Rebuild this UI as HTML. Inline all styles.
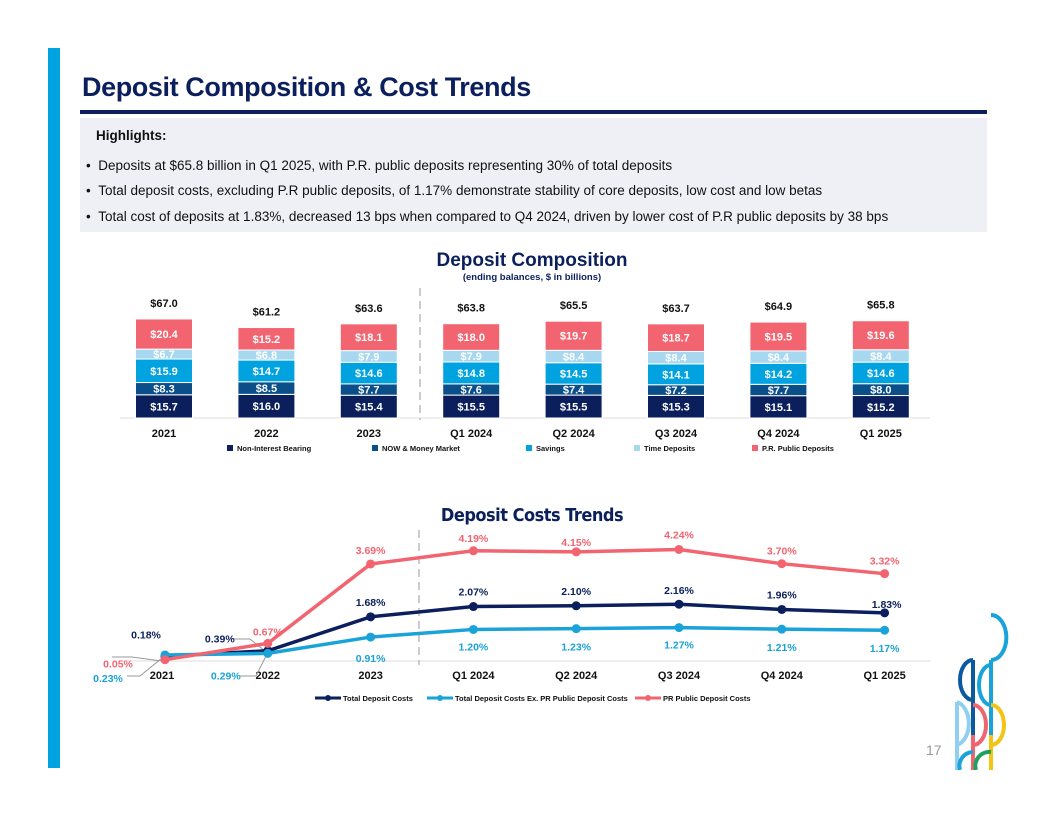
<!DOCTYPE html>
<html><head><meta charset="utf-8">
<style>
body{margin:0;background:#fff;}
#page{position:relative;width:1056px;height:816px;overflow:hidden;font-family:"Liberation Sans",sans-serif;background:#fff;}
.abs{position:absolute;}
.hl{font-size:13.5px;color:#111;}
</style></head><body>
<div id="page">
<div class="abs" style="left:48px;top:48px;width:12px;height:720px;background:#00a3e0"></div>
<div class="abs" style="left:82px;top:72px;font-size:27px;letter-spacing:-0.4px;font-weight:bold;color:#0b1f5c">Deposit Composition &amp; Cost Trends</div>
<div class="abs" style="left:80px;top:110px;width:907px;height:4px;background:#0b1f5c"></div>
<div class="abs" style="left:80px;top:118px;width:907px;height:114px;background:#eef0f6"></div>
<div class="abs hl" style="left:96px;top:128px;font-weight:bold">Highlights:</div>
<div class="abs hl" style="left:86px;top:158px">•&nbsp;&nbsp;Deposits at $65.8 billion in Q1 2025, with P.R. public deposits representing 30% of total deposits</div>
<div class="abs hl" style="left:86px;top:183px">•&nbsp;&nbsp;Total deposit costs, excluding P.R public deposits, of 1.17% demonstrate stability of core deposits, low cost and low betas</div>
<div class="abs hl" style="left:86px;top:209px">•&nbsp;&nbsp;Total cost of deposits at 1.83%, decreased 13 bps when compared to Q4 2024, driven by lower cost of P.R public deposits by 38 bps</div>
<div class="abs" style="left:926px;top:742px;font-size:14px;color:#999">17</div>
<svg class="abs" style="left:940px;top:560px" width="80" height="210" fill="none" stroke-width="4">
<path d="M51,100 V210 M51,55 A15,22 0 0 1 51,100" stroke="#1aa3d8"/>
<path d="M33,100 A13,20 0 0 0 33,140 M33,100 V175" stroke="#0b5aa0"/>
<path d="M51,105 A12,20 0 0 0 51,145" stroke="#1aa3d8"/>
<path d="M17,142 V210 M17,142 A15,22 0 0 1 17,185" stroke="#8fd0f0"/>
<path d="M33,145 A13,20 0 0 1 33,185 M33,175 V210" stroke="#f06470"/>
<path d="M51,145 A13,20 0 0 1 51,185 M51,175 V210" stroke="#f2c416"/>
<path d="M20,210 A14,14 0 0 1 33,192" stroke="#1aa3d8"/>
<path d="M36,210 A14,14 0 0 1 51,192" stroke="#20a060"/>
</svg>
<div class="abs" style="left:0;width:1056px;text-align:center;top:250px;font-size:19px;font-weight:bold;color:#0b1f5c;padding-left:4px">Deposit Composition</div>
<div class="abs" style="left:0;width:1056px;text-align:center;top:272px;font-size:9.5px;font-weight:bold;color:#0b1f5c;padding-left:4px">(ending balances, $ in billions)</div>
<div class="abs" style="left:0;width:1056px;text-align:center;top:505px;font-size:18px;font-weight:bold;color:#0b1f5c;font-family:'DejaVu Sans Condensed','Liberation Sans Narrow',sans-serif;letter-spacing:-0.5px;padding-left:4px">Deposit Costs Trends</div>
<svg id="chart" class="abs" style="left:0;top:0" width="1056" height="816"></svg>
</div>
<script>
const categories=["2021","2022","2023","Q1 2024","Q2 2024","Q3 2024","Q4 2024","Q1 2025"];
const nonInterest=[15.7,16.0,15.4,15.5,15.5,15.3,15.1,15.2];
const nowMM=[8.3,8.5,7.7,7.6,7.4,7.2,7.7,8.0];
const savings=[15.9,14.7,14.6,14.8,14.5,14.1,14.2,14.6];
const timeDep=[6.7,6.8,7.9,7.9,8.4,8.4,8.4,8.4];
const prPublic=[20.4,15.2,18.1,18.0,19.7,18.7,19.5,19.6];
const totals=[67.0,61.2,63.6,63.8,65.5,63.7,64.9,65.8];
const totalCost=[0.18,0.39,1.68,2.07,2.10,2.16,1.96,1.83];
const exPrCost=[0.23,0.29,0.91,1.20,1.23,1.27,1.21,1.17];
const prCost=[0.05,0.67,3.69,4.19,4.15,4.24,3.70,3.32];
const NS="http://www.w3.org/2000/svg";
const svg=document.getElementById('chart');
function mk(t,a,p){const e=document.createElementNS(NS,t);for(const k in a)e.setAttribute(k,a[k]);(p||svg).appendChild(e);return e;}
function txt(x,y,s,fill,size,anchor){const e=mk('text',{x:x,y:y,fill:fill,'font-size':size,'font-weight':'bold','text-anchor':anchor||'middle','font-family':'Liberation Sans, sans-serif'});e.textContent=s;return e;}
const bx=i=>164+i*102.4;
const base=418, k=1.478;
const by=v=>base-v*k;
mk('line',{x1:120,x2:930,y1:base,y2:base,stroke:'#ddd','stroke-width':1});
mk('line',{x1:420,x2:420,y1:288,y2:420,stroke:'#ccc','stroke-width':2,'stroke-dasharray':'8,5'});
const series=[[nonInterest,'#0b1f5c'],[nowMM,'#0b4f8a'],[savings,'#00a3e0'],[timeDep,'#a8d8f0'],[prPublic,'#f26470']];
const segNames=['segment-non-interest','segment-now-mm','segment-savings','segment-time','segment-pr-public'];
categories.forEach((c,i)=>{
  let cum=0;
  series.forEach((s,j)=>{
    const v=s[0][i];
    const r=mk('rect',{x:bx(i)-28.5,y:by(cum+v),width:57,height:v*k,fill:s[1],stroke:'#fff','stroke-width':1});
    
    
    txt(bx(i),by(cum+v/2)+4,'$'+v.toFixed(1),'#fff',11);
    cum+=v;
  });
  const tl=txt(bx(i),by(cum)-12,'$'+totals[i].toFixed(1),'#111',11);
  
  const cl=txt(bx(i),437,c,'#111',11);
  
});
const legB=[['Non-Interest Bearing',227,'#0b1f5c'],['NOW & Money Market',372,'#0b4f8a'],['Savings',526,'#00a3e0'],['Time Deposits',634,'#a8d8f0'],['P.R. Public Deposits',752,'#f26470']];
legB.forEach(l=>{
  const g=mk('g',{});
  
  
  mk('rect',{x:l[1],y:445,width:6,height:6,fill:l[2]},g);
  const t=txt(l[1]+10,451,l[0],'#111',7.5,'start');g.appendChild(t);
});
const lx=i=>165+i*102.8;
const lbase=661, lk=26.3;
const ly=v=>lbase-v*lk;
mk('line',{x1:120,x2:930,y1:lbase,y2:lbase,stroke:'#ddd','stroke-width':1});
mk('line',{x1:419,x2:419,y1:530,y2:665,stroke:'#ccc','stroke-width':2,'stroke-dasharray':'8,5'});
categories.forEach((c,i)=>{const t=txt(i==0?lx(i)-3:lx(i),679,c,'#111',11);});
[[[112,657],[132,657],[161,661]],[[127,676],[140,676],[162,658]],[[232,639],[250,639],[265,651]],[[240,676],[256,676],[266,656]]].forEach(p=>mk('polyline',{points:p.map(q=>q.join(',')).join(' '),fill:'none',stroke:'#999','stroke-width':1}));
const lines=[[totalCost,'#0b1f5c','line-total-deposit-costs',[[-19,-22],[-48,-12],[0,-15],[0,-15],[0,-15],[0,-14],[0,-15],[2,-9]]],
             [exPrCost,'#1aa3d8','line-ex-pr-costs',[[-57,23],[-42,22],[0,21],[0,17],[0,18],[0,17],[0,18],[0,18]]],
             [prCost,'#f26470','line-pr-public-costs',[[-47,4],[0,-12],[0,-14],[0,-13],[0,-10],[0,-15],[0,-13],[0,-13]]]];
lines.forEach(L=>{
  const d=L[0].map((v,i)=>(i?'L':'M')+lx(i)+','+ly(v)).join(' ');
  const p=mk('path',{d:d,fill:'none',stroke:L[1],'stroke-width':3.5});
  
  
  L[0].forEach((v,i)=>{
    const c=mk('circle',{cx:lx(i),cy:ly(v),r:4.5,fill:L[1]});
    
    
    txt(lx(i)+L[3][i][0],ly(v)+L[3][i][1]+4,v.toFixed(2)+'%',L[1],10.5);
  });
});
const legL=[['Total Deposit Costs',315,'#0b1f5c'],['Total Deposit Costs Ex. PR Public Deposit Costs',427,'#1aa3d8'],['PR Public Deposit Costs',635,'#f26470']];
legL.forEach(l=>{
  const g=mk('g',{});
  
  
  mk('line',{x1:l[1],x2:l[1]+26,y1:698,y2:698,stroke:l[2],'stroke-width':3},g);
  mk('circle',{cx:l[1]+13,cy:698,r:3,fill:l[2]},g);
  const t=txt(l[1]+28,701,l[0],'#111',7.5,'start');g.appendChild(t);
});
</script>
</body></html>
